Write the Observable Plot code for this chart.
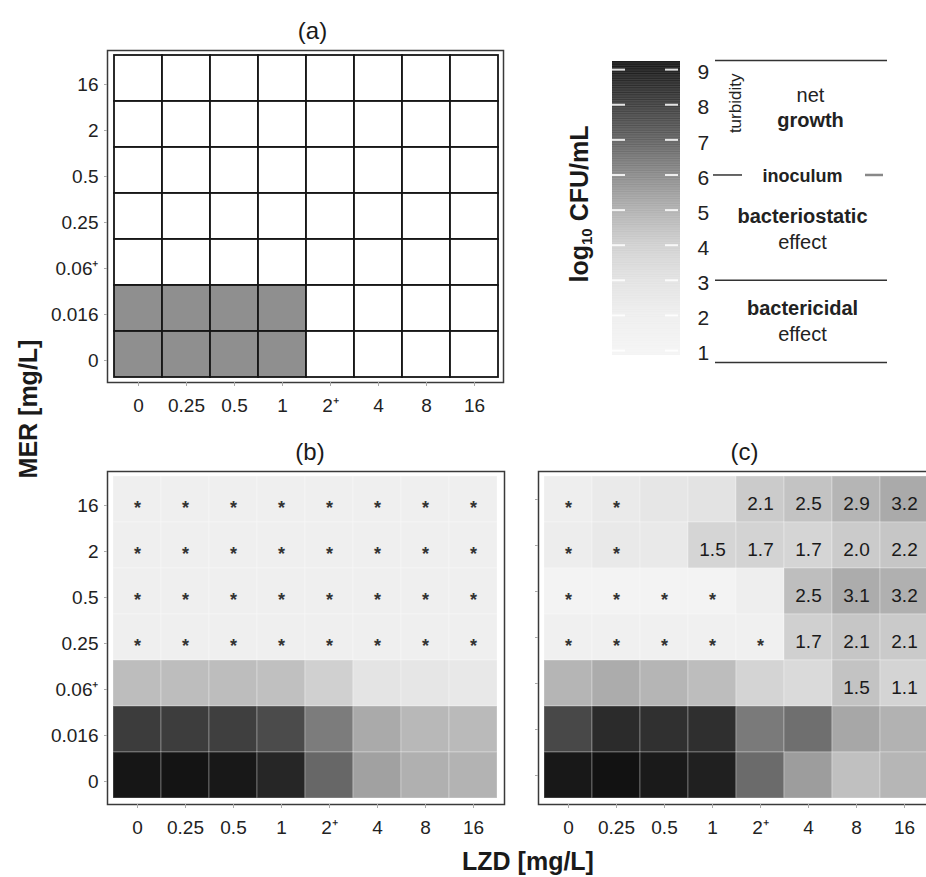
<!DOCTYPE html>
<html>
<head>
<meta charset="utf-8">
<script src="https://cdn.jsdelivr.net/npm/d3@7"></script>
<script src="https://cdn.jsdelivr.net/npm/@observablehq/plot@0.6"></script>
<style>
  body { margin: 0; background: #fff; }
  #root { position: relative; width: 926px; height: 877px; overflow: hidden; background: #fff;
          font-family: "Liberation Sans", Arial, Helvetica, sans-serif; color: #1a1a1a; }
  .ttl { position: absolute; white-space: nowrap; font-weight: bold; font-size: 25px; line-height: 1; }
  .ttl sub { font-size: 15px; vertical-align: -4px; }
</style>
</head>
<body>
<div id="root"></div>
<script>
// ---------- data ----------
const lzd = ["0", "0.25", "0.5", "1", "2⁺", "4", "8", "16"];          // LZD [mg/L] (x)
const mer = ["16", "2", "0.5", "0.25", "0.06⁺", "0.016", "0"];        // MER [mg/L] (y, top to bottom)

// (a) turbidity: 1 = turbid (grey), 0 = clear
const turbidA = [
  [0,0,0,0,0,0,0,0],
  [0,0,0,0,0,0,0,0],
  [0,0,0,0,0,0,0,0],
  [0,0,0,0,0,0,0,0],
  [0,0,0,0,0,0,0,0],
  [1,1,1,1,0,0,0,0],
  [1,1,1,1,0,0,0,0]
];

// (b) log10 CFU/mL
const cfuB = [
  [1.8,1.8,1.8,1.8,1.8,1.8,1.8,1.8],
  [1.8,1.8,1.8,1.8,1.8,1.8,1.8,1.8],
  [1.8,1.8,1.8,1.8,1.8,1.8,1.8,1.8],
  [1.8,1.8,1.8,1.8,1.8,1.8,1.8,1.8],
  [4.6,4.6,4.6,4.5,4.0,2.8,2.7,2.5],
  [8.1,8.05,8.0,7.65,6.35,5.15,4.75,4.7],
  [9.3,9.4,9.25,8.75,6.85,5.4,5.0,4.9]
];
const markB = [
  ["*","*","*","*","*","*","*","*"],
  ["*","*","*","*","*","*","*","*"],
  ["*","*","*","*","*","*","*","*"],
  ["*","*","*","*","*","*","*","*"],
  ["","","","","","","",""],
  ["","","","","","","",""],
  ["","","","","","","",""]
];

// (c) log10 CFU/mL
const cfuC = [
  [2.0,2.3,2.7,2.9,4.15,4.4,4.85,5.15],
  [2.1,2.4,2.4,3.7,3.85,3.75,4.15,4.3],
  [1.2,1.2,1.2,1.2,2.0,4.55,5.1,5.0],
  [1.7,1.7,1.7,1.7,1.7,4.0,4.3,4.2],
  [4.85,5.1,4.85,4.6,3.8,3.45,4.4,3.8],
  [7.75,8.6,8.45,8.5,6.4,6.65,5.25,4.95],
  [9.25,9.45,9.15,8.95,6.75,5.5,4.5,4.8]
];
const markC = [
  ["*","*","","","2.1","2.5","2.9","3.2"],
  ["*","*","","1.5","1.7","1.7","2.0","2.2"],
  ["*","*","*","*","","2.5","3.1","3.2"],
  ["*","*","*","*","*","1.7","2.1","2.1"],
  ["","","","","","","1.5","1.1"],
  ["","","","","","","",""],
  ["","","","","","","",""]
];

// legend
const legendTicks = [1, 2, 3, 4, 5, 6, 7, 8, 9];
const legendExtent = [0.86, 9.23];       // colour bar range (log10 CFU/mL)
const zoneLines = [9.26, 3, 0.66];        // top / bactericidal threshold / bottom
const inoculum = 6;
const zoneTexts = [
  {t: "net", v: 8.26, bold: false, col: "net"},
  {t: "growth", v: 7.55, bold: true, col: "net"},
  {t: "bacteriostatic", v: 4.82, bold: true, col: "main"},
  {t: "effect", v: 4.08, bold: false, col: "main"},
  {t: "bactericidal", v: 2.20, bold: true, col: "main"},
  {t: "effect", v: 1.46, bold: false, col: "main"}
];

// grey ramp of the colour scale
const grayDomain = [1, 2, 3, 4, 5, 6, 7, 8, 9, 9.5];
const grayRange = ["#f4f4f4","#eeeeee","#e2e2e2","#d0d0d0","#b0b0b0","#8a8a8a","#616161","#3f3f3f","#1e1e1e","#111111"];

// ---------- helpers ----------
const root = document.getElementById("root");
const font = '"Liberation Sans", Arial, Helvetica, sans-serif';
const baseStyle = {fontFamily: font, fontSize: "19px", color: "#222", background: "transparent", overflow: "visible"};

function place(node, left, top) {
  node.style.position = "absolute";
  node.style.left = left + "px";
  node.style.top = top + "px";
  node.style.maxWidth = "none";
  root.appendChild(node);
}
function tidy(values, marks) {
  const out = [];
  mer.forEach((m, r) => lzd.forEach((l, c) => out.push({lzd: l, mer: m, v: values[r][c], lab: marks ? marks[r][c] : ""})));
  return out;
}
const colorScale = {type: "linear", domain: grayDomain, range: grayRange, interpolate: "rgb", clamp: true};

// ---------- panel (a) ----------
const dataA = tidy(turbidA);
place(Plot.plot({
  width: 515, height: 430,
  marginLeft: 107, marginRight: 12, marginTop: 50, marginBottom: 48,
  style: baseStyle,
  x: {type: "band", domain: lzd, padding: 0, insetLeft: 5, insetRight: 4, label: null, axis: null},
  y: {type: "band", domain: mer, padding: 0, insetTop: 3, insetBottom: 4, label: null, axis: null},
  color: {type: "ordinal", domain: [0, 1], range: ["#ffffff", "#8f8f8f"]},
  marks: [
    Plot.frame({stroke: "#3a3a3a", strokeWidth: 1.5}),
    Plot.cell(dataA, {x: "lzd", y: "mer", fill: "v", stroke: "#151515", strokeWidth: 1.8}),
    Plot.axisX({anchor: "bottom", tickSize: 4, tickPadding: 12, stroke: "#aaa", color: "#222", fontSize: 19, label: null}),
    Plot.axisY({anchor: "left", tickSize: 3, tickPadding: 6, stroke: "#aaa", color: "#222", fontSize: 19, dy: 6, label: null}),
    Plot.text(["(a)"], {frameAnchor: "top", lineAnchor: "middle", dx: 7, dy: -19, fontSize: 24, fill: "#1a1a1a"})
  ]
}), 0, 0);

// ---------- panels (b) and (c) ----------
function heat(values, marks, o) {
  const data = tidy(values, marks);
  return Plot.plot({
    width: o.width, height: 430,
    marginLeft: o.ml, marginRight: o.mr, marginTop: 51, marginBottom: 46,
    style: baseStyle,
    x: {type: "band", domain: lzd, padding: 0, insetLeft: 5, insetRight: o.ir, label: null, axis: null},
    y: {type: "band", domain: mer, padding: 0, insetTop: 3, insetBottom: 5, label: null, axis: null},
    color: colorScale,
    marks: [
      Plot.frame({stroke: "#3a3a3a", strokeWidth: 1.5}),
      Plot.cell(data, {x: "lzd", y: "mer", fill: "v", stroke: "#ffffff", strokeOpacity: 0.3, strokeWidth: 1}),
      Plot.text(data.filter(d => d.lab === "*"), {x: "lzd", y: "mer", text: "lab", fontSize: 18, fontWeight: "bold", dy: 9, fill: "#333"}),
      Plot.text(data.filter(d => d.lab && d.lab !== "*"), {x: "lzd", y: "mer", text: "lab", fontSize: 19, dy: 4, fill: "#1a1a1a"}),
      Plot.axisX({anchor: "bottom", tickSize: 4, tickPadding: 12, stroke: "#aaa", color: "#222", fontSize: 19, label: null}),
      o.yLabels
        ? Plot.axisY({anchor: "left", tickSize: 3, tickPadding: 6, stroke: "#aaa", color: "#222", fontSize: 19, dy: 6, label: null})
        : Plot.axisY({anchor: "left", tickSize: 3, tickPadding: 6, stroke: "#aaa", tickFormat: () => "", label: null}),
      Plot.text([o.title], {frameAnchor: "top", lineAnchor: "middle", dx: o.tdx, dy: -19, fontSize: 24, fill: "#1a1a1a"})
    ]
  });
}
place(heat(cfuB, markB, {width: 520, ml: 107, mr: 16, ir: 6, yLabels: true, title: "(b)", tdx: 4}), 0, 420);
place(heat(cfuC, markC, {width: 420, ml: 18, mr: 6, ir: 5, yLabels: false, title: "(c)", tdx: 8}), 520, 420);

// ---------- legend ----------
const W = 411;
const L = {barX1: 97, barX2: 165, tickLen: 13, numX: 182, lineX1: 200, lineX2: 372,
           inocX1: 198, inocX2: 227, dashX1: 350, dashX2: 368, textX: 287, turbX: 220, netX: 295};
const steps = d3.range(legendExtent[0], legendExtent[1], 0.02);
const xOf = d => d.col === "net" ? L.netX : L.textX;
place(Plot.plot({
  width: W, height: 400,
  marginLeft: 0, marginRight: 0, marginTop: 0, marginBottom: 0,
  style: baseStyle,
  x: {domain: [0, W], range: [0, W], axis: null},
  y: {domain: [zoneLines[2], zoneLines[0]], range: [362, 60], axis: null},
  color: colorScale,
  marks: [
    Plot.rect(steps, {x1: L.barX1, x2: L.barX2, y1: d => d, y2: d => Math.min(d + 0.03, legendExtent[1]), fill: d => d}),
    Plot.ruleY(legendTicks, {y: d => d, x1: L.barX1, x2: L.barX1 + L.tickLen, stroke: "#fff", strokeWidth: 2, strokeOpacity: 0.85}),
    Plot.ruleY(legendTicks, {y: d => d, x1: L.barX2 - L.tickLen - 2, x2: L.barX2 - 2, stroke: "#fff", strokeWidth: 2, strokeOpacity: 0.85}),
    Plot.text(legendTicks, {y: d => d, x: L.numX, text: d => String(d), textAnchor: "start", fontSize: 21, dy: 3, fill: "#222"}),
    Plot.ruleY(zoneLines, {x1: L.lineX1, x2: L.lineX2, stroke: "#333", strokeWidth: 1.5}),
    Plot.ruleY([inoculum], {x1: L.inocX1, x2: L.inocX2, stroke: "#333", strokeWidth: 1.5}),
    Plot.ruleY([inoculum], {x1: L.dashX1, x2: L.dashX2, stroke: "#888", strokeWidth: 2.5}),
    Plot.text(["inoculum"], {y: inoculum - 0.04, x: L.textX, fontSize: 18, fontWeight: "bold", fill: "#222"}),
    Plot.text(["turbidity"], {y: 8.04, x: L.turbX, rotate: -90, fontSize: 17, fill: "#222"}),
    Plot.text(zoneTexts.filter(d => d.bold), {y: "v", x: xOf, text: "t", fontSize: 20, fontWeight: "bold", fill: "#222"}),
    Plot.text(zoneTexts.filter(d => !d.bold), {y: "v", x: xOf, text: "t", fontSize: 20, fill: "#222"})
  ]
}), 515, 0);

// ---------- axis titles ----------
function title(html, x, y, rot) {
  const d = document.createElement("div");
  d.className = "ttl";
  d.innerHTML = html;
  d.style.left = x + "px";
  d.style.top = y + "px";
  d.style.transform = "translate(-50%, -50%)" + (rot ? " rotate(-90deg)" : "");
  root.appendChild(d);
}
title("MER [mg/L]", 28, 409, true);
title("LZD [mg/L]", 528, 861, false);
title("log<sub>10</sub> CFU/mL", 580, 204, true);
</script>
</body>
</html>
